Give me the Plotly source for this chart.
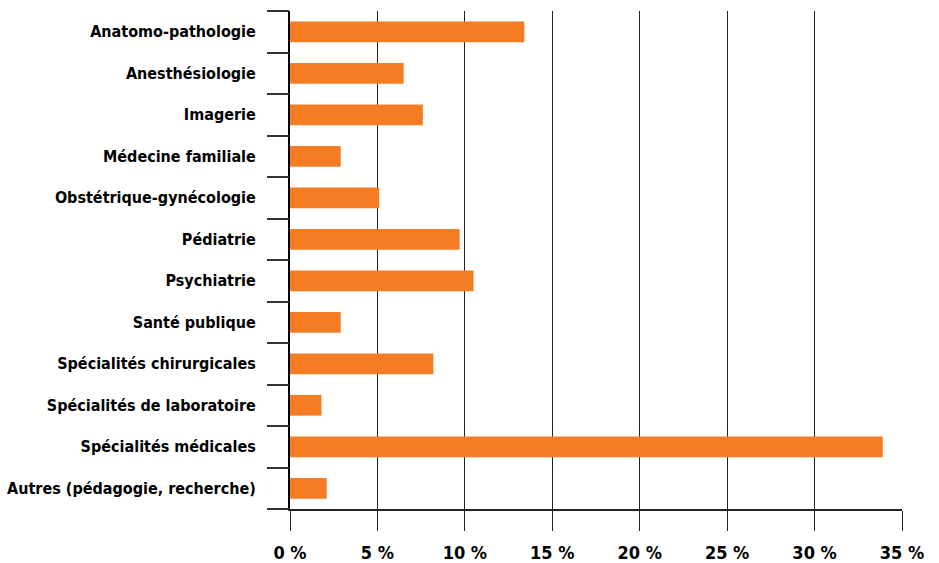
import plotly.graph_objects as go

# Share of residents by specialty group (%)
specialites = [
    "Anatomo-pathologie",
    "Anesthésiologie",
    "Imagerie",
    "Médecine familiale",
    "Obstétrique-gynécologie",
    "Pédiatrie",
    "Psychiatrie",
    "Santé publique",
    "Spécialités chirurgicales",
    "Spécialités de laboratoire",
    "Spécialités médicales",
    "Autres (pédagogie, recherche)",
]
pourcentages = [13.4, 6.5, 7.6, 2.9, 5.1, 9.7, 10.5, 2.9, 8.2, 1.8, 33.9, 2.1]

x_ticks = [0, 5, 10, 15, 20, 25, 30, 35]
x_tick_labels = ["0 %", "5 %", "10 %", "15 %", "20 %", "25 %", "30 %", "35 %"]

FONT = "DejaVu Sans Condensed, Roboto, sans-serif"
ORANGE = "#F47C22"

n = len(specialites)
# boundaries between category rows, for the separator ticks on the left
boundaries = [i - 0.5 for i in range(n + 1)]

fig = go.Figure(
    go.Bar(
        x=pourcentages,
        y=specialites,
        orientation="h",
        marker=dict(color=ORANGE, line=dict(width=0)),
        width=0.5,
    )
)

fig.update_layout(
    width=939,
    height=563,
    margin=dict(l=290, r=37, t=11, b=54),
    paper_bgcolor="white",
    plot_bgcolor="white",
    showlegend=False,
    font=dict(family=FONT, size=17, color="black"),
    yaxis=dict(
        type="category",
        categoryorder="array",
        categoryarray=specialites,
        range=[n - 0.5, -0.5],
        ticks="",
        showline=True,
        linecolor="black",
        linewidth=2,
        showgrid=False,
        automargin=False,
        ticklabelstandoff=29,
        tickfont=dict(family=FONT, size=16, color="black", weight="bold"),
    ),
    # numeric overlay axis carrying the row separator ticks
    yaxis2=dict(
        overlaying="y",
        side="left",
        range=[n - 0.5, -0.5],
        tickvals=boundaries,
        showticklabels=False,
        ticks="outside",
        ticklen=22,
        tickcolor="#333333",
        tickwidth=1.5,
        showgrid=False,
        zeroline=False,
        showline=False,
        automargin=False,
    ),
)

fig.update_xaxes(
    range=[0, 35],
    tickvals=x_ticks,
    ticktext=x_tick_labels,
    showgrid=True,
    gridcolor="#222222",
    gridwidth=1,
    zeroline=False,
    showline=True,
    linecolor="#222222",
    linewidth=2,
    ticks="outside",
    ticklen=20,
    tickcolor="#222222",
    tickwidth=1,
    automargin=False,
    ticklabelstandoff=6,
    tickfont=dict(family=FONT, size=18, color="black", weight="bold"),
)

# invisible trace to activate the separator axis
fig.add_trace(
    go.Scatter(x=[None], y=[None], yaxis="y2", showlegend=False, hoverinfo="skip")
)

fig.write_html("out.html")
